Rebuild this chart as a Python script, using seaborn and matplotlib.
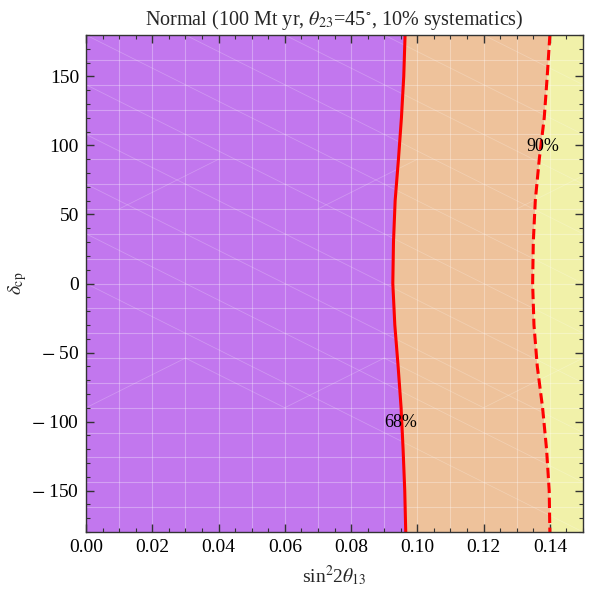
import numpy as np
import matplotlib
matplotlib.use("Agg")
import matplotlib.pyplot as plt
import seaborn as sns
from matplotlib.ticker import MultipleLocator

# ---- data ----
delta = [180, 150, 120, 90, 60, 30, 0, -30, -60, -90, -120, -150, -180]
s68 = [0.0963, 0.0959, 0.0952, 0.0943, 0.0933, 0.0928, 0.0926, 0.0932,
       0.0942, 0.0951, 0.0957, 0.0962, 0.0965]
s90 = [0.1400, 0.1392, 0.1383, 0.1368, 0.1356, 0.1350, 0.1348, 0.1352,
       0.1362, 0.1378, 0.1390, 0.1398, 0.1400]
x_ticks = [0.00, 0.02, 0.04, 0.06, 0.08, 0.10, 0.12, 0.14]
y_ticks = [-150, -100, -50, 0, 50, 100, 150]
contour_labels = ["68%", "90%"]
label_pos = [(0.0951, -101), (0.1378, 99)]

XMIN, XMAX, YMIN, YMAX = 0.0, 0.15, -180, 180

sns.set_theme(style="white")
plt.rcParams["font.family"] = ["Liberation Serif", "DejaVu Serif"]
plt.rcParams["mathtext.fontset"] = "stix"

fig = plt.figure(figsize=(5.94, 5.90), dpi=100)
ax = fig.add_axes([86 / 594, 58 / 590, 497 / 594, 497 / 590])
ax.set_axisbelow(False)

purple = "#C277EE"
orange = "#EEC29B"
yellow = "#F1F1A9"

ax.fill_betweenx(delta, XMIN, s68, color=purple, lw=0, zorder=1)
ax.fill_betweenx(delta, s68, s90, color=orange, lw=0, zorder=1)
ax.fill_betweenx(delta, s90, XMAX, color=yellow, lw=0, zorder=1)

# faint mesh (cosmetic)
mesh_kw = dict(color="white", alpha=0.3, lw=0.8, zorder=1.5)
for xv in np.arange(0.01, 0.15, 0.01):
    ax.axvline(xv, **mesh_kw)
for yv in np.arange(-162, 180, 18):
    ax.axhline(yv, **mesh_kw)
diag_kw = dict(color="white", alpha=0.22, lw=0.6, zorder=1.5)
for x0 in np.arange(-0.15, 0.15, 0.03):
    ax.plot([x0, x0 + 0.30], [180, 180 - 360], **diag_kw)
for x0 in np.arange(-0.12, 0.15, 0.06):
    ax.plot([x0, x0 + 0.03], [-90, -54], **diag_kw)
    ax.plot([x0 + 0.03, x0 + 0.06], [-54, -90], **diag_kw)
    ax.plot([x0 + 0.01, x0 + 0.04], [54, 90], **diag_kw)

sns.lineplot(x=s68, y=delta, sort=False, orient="y", estimator=None,
             color="#FF0000", lw=2.2, ax=ax, zorder=4)
sns.lineplot(x=s90, y=delta, sort=False, orient="y", estimator=None,
             color="#FF0000", lw=2.2, ax=ax, zorder=4, linestyle=(0, (3.4, 1.5)))

for lab, (lx, ly) in zip(contour_labels, label_pos):
    ax.text(lx, ly, lab, ha="center", va="center", fontsize=13,
            color="black", zorder=5)

def ylab(v):
    return (r"$-$" + "\u2009" + str(abs(v))) if v < 0 else str(v)

ax.set_xlim(XMIN, XMAX)
ax.set_ylim(YMIN, YMAX)
ax.set_xticks(x_ticks)
ax.set_xticklabels([f"{v:.2f}" for v in x_ticks])
ax.set_yticks(y_ticks)
ax.set_yticklabels([ylab(v) for v in y_ticks])
ax.xaxis.set_minor_locator(MultipleLocator(0.005))
ax.yaxis.set_minor_locator(MultipleLocator(10))
ax.tick_params(which="both", direction="in", top=True, right=True,
               bottom=True, left=True, color="#333333", labelsize=14,
               labelcolor="black")
ax.tick_params(which="major", length=6, width=1.0, pad=5)
ax.tick_params(which="minor", length=3, width=0.8)
for sp in ax.spines.values():
    sp.set_color("#333333")
    sp.set_linewidth(1.0)
    sp.set_zorder(6)

ax.set_xlabel(r"sin$^2$2$\theta_{13}$", fontsize=14, labelpad=5)
ax.set_ylabel(r"$\delta_{\rm cp}$", fontsize=14, labelpad=2)
ax.set_title(r"Normal (100 Mt yr, $\theta_{23}$=45$^{\circ}$, 10% systematics)",
             fontsize=14.5, pad=7)
ax.grid(False)

fig.savefig("out.png", dpi=100)
